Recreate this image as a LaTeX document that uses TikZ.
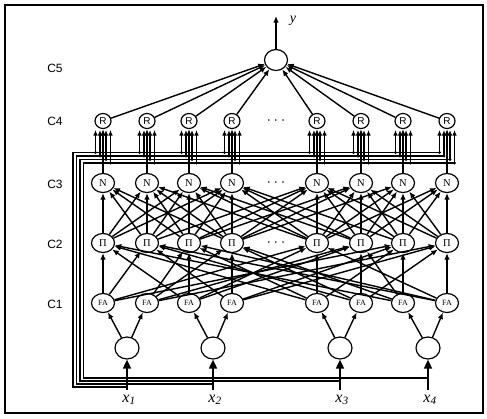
\documentclass[tikz,border=0pt]{standalone}
\usepackage{fontspec}
\setmainfont{Liberation Serif}
\setsansfont{Liberation Sans}
\usetikzlibrary{arrows.meta,shapes.geometric}
\begin{document}
\begin{tikzpicture}[x=1pt,y=-1pt,
  cell/.style={draw, ellipse, line width=1.2pt, inner sep=0pt, minimum width=23pt, minimum height=19pt, fill=white},
  rcell/.style={draw, ellipse, line width=1.2pt, inner sep=0pt, minimum width=16pt, minimum height=15pt, fill=white, font=\sffamily\fontsize{10}{10}\selectfont},
  incell/.style={draw, ellipse, line width=1.2pt, inner sep=0pt, minimum width=24pt, minimum height=22pt},
  arr/.style={-{Latex[length=6.5pt,width=5.5pt]}, line width=1.4pt},
  fbarr/.style={-{Latex[length=5.5pt,width=4.5pt]}, line width=1.2pt},
  inarr/.style={-{Triangle[length=9pt,width=8pt]}, line width=1.6pt},
  fbline/.style={line width=1.2pt},
  layerlab/.style={font=\sffamily\fontsize{12}{12}\selectfont},
  dotlab/.style={font=\sffamily\fontsize{6}{6}\selectfont}
]
\useasboundingbox (0,0) rectangle (487,418);
\draw[line width=1.2pt] (5,5) rectangle (483,413);

% layer labels
\node[layerlab] (c5) at (55,68) {C5};
\node[layerlab] (c4) at (55,121) {C4};
\node[layerlab] (c3) at (55,184) {C3};
\node[layerlab] (c2) at (55,244) {C2};
\node[layerlab] (c1) at (55,304) {C1};

% output
\node[cell, minimum width=23pt, minimum height=21pt] (out) at (276,60) {};
\coordinate (ytop) at (276,16);
\draw[arr] (out) -- (ytop);
\node[font=\itshape\fontsize{14}{14}\selectfont] (ylab) at (293,21) {y};

% columns
\foreach \x [count=\i] in {103,147,189,232,317,361,403,447} {
  \node[rcell] (R\i) at (\x,121) {R};
  \node[cell, font=\fontsize{10.5}{10.5}\selectfont] (N\i) at (\x,183) {N};
  \node[cell, font=\fontsize{10.5}{10.5}\selectfont] (P\i) at (\x,243) {Π};
  \node[cell, font=\fontsize{8}{8}\selectfont] (F\i) at (\x,303) {FA};
}
\node[dotlab] (d4) at (276,121) {•\hspace{5pt}•\hspace{5pt}•};
\node[dotlab] (d3) at (276,183) {•\hspace{5pt}•\hspace{5pt}•};
\node[dotlab] (d2) at (276,243) {•\hspace{5pt}•\hspace{5pt}•};

% inputs
\foreach \x [count=\i] in {127,213,340,428} {
  \node[incell] (I\i) at (\x,348) {};
  \coordinate (X\i) at (\x,390);
  \node[font=\itshape\fontsize{16}{16}\selectfont, inner sep=0pt] (L\i) at (\x+2,400) {x\textsubscript{\itshape\i}};
  \draw[inarr] (X\i) -- (I\i);
}
% inputs to FA
\foreach \i/\a/\b in {1/1/2,2/3/4,3/5/6,4/7/8} {
  \draw[arr] (I\i) -- (F\a);
  \draw[arr] (I\i) -- (F\b);
}
% FA to Pi
\foreach \p/\la in {1/{1,3,5,7},2/{1,4,6,8},3/{2,3,5,8},4/{2,4,6,7},5/{1,3,5,8},6/{2,3,6,7},7/{1,4,5,7},8/{2,4,6,8}} {
  \foreach \f in \la {
    \draw[arr] (F\f) -- (P\p);
  }
}
% Pi to N
\foreach \k in {1,...,8} {
  \foreach \j in {1,...,8} {
    \pgfmathtruncatemacro{\dd}{abs(\k-\j)}
    \ifnum\dd<4
      \draw[arr] (P\k) -- (N\j);
    \fi
  }
}
% N to R, R to output
\foreach \i in {1,...,8} {
  \draw[arr] (N\i) -- (R\i);
  \draw[arr] (R\i) -- (out);
}

% feedback lines
\foreach \n/\lx/\ty/\by/\o in {1/73/152.5/387/-7.5, 2/76.5/156/384/-3, 3/80/159.5/381/3, 4/83.5/163/378/7.5} {
  \coordinate (J\n) at (X\n |- 0,\by);
  \coordinate (E\n) at (447+\o,\ty);
  \draw[fbline] (J\n) -- (\lx,\by) -- (\lx,\ty) -- (E\n);
  \foreach \x [count=\j] in {103,147,189,232,317,361,403,447} {
    \coordinate (S\n\j) at (\x+\o,\ty);
    \coordinate (T\n\j) at (\x+\o,130);
    \fill (S\n\j) circle (1.7);
    \draw[fbarr] (S\n\j) -- (T\n\j);
  }
}
\end{tikzpicture}
\end{document}
